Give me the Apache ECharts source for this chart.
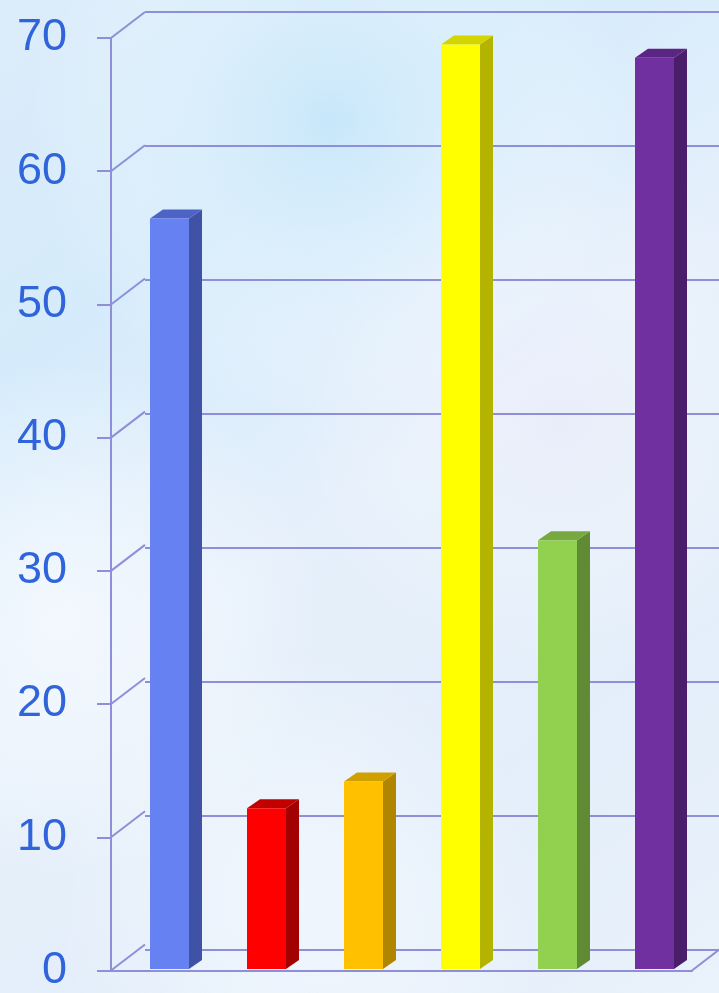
<!DOCTYPE html>
<html>
<head>
<meta charset="utf-8">
<script src="https://cdn.jsdelivr.net/npm/echarts@6/dist/echarts.min.js"></script>
<style>
html,body{margin:0;padding:0;background:#e6f1fb;}
#chart{width:719px;height:993px;}
</style>
</head>
<body>
<div id="chart"></div>
<script>
// ---- data ----
const categories = ['A', 'B', 'C', 'D', 'E', 'F'];
const values = [56, 12, 14, 69, 32, 68];
const yTicks = [0, 10, 20, 30, 40, 50, 60, 70];

// ---- styles ----
const frontColors = ['#6682f2', '#ff0000', '#ffc000', '#ffff00', '#92d050', '#7030a0'];
const sideColors  = ['#3f52a6', '#a30000', '#b08500', '#b3b300', '#608a34', '#4a1e6b'];
const topColors   = ['#4d64c6', '#c20000', '#d19f00', '#d4d400', '#78a842', '#5b2584'];
const gridColor = '#8f8fd9';
const depthX = 34, depthY = -26;  // projection of the floor depth
const barDX = 13, barDY = -9;     // projection of a bar's depth
const barW = 39;

const chart = echarts.init(document.getElementById('chart'));

function glow(cx, cy, r, color) {
  return {
    type: 'circle', silent: true, z: -10,
    shape: { cx: cx, cy: cy, r: r },
    style: { fill: { type: 'radial', x: 0.5, y: 0.5, r: 0.5,
      colorStops: [{ offset: 0, color: color }, { offset: 1, color: 'rgba(255,255,255,0)' }] } }
  };
}

const option = {
  animation: false,
  backgroundColor: {
    type: 'linear', x: 0, y: 0, x2: 1, y2: 1,
    colorStops: [
      { offset: 0, color: '#dcecfa' },
      { offset: 0.25, color: '#d5ebfb' },
      { offset: 0.5, color: '#e6f0fb' },
      { offset: 0.75, color: '#e3eefa' },
      { offset: 1, color: '#eaf2fb' }
    ]
  },
  graphic: [
    glow(330, 120, 300, 'rgba(196,230,250,0.8)'),
    glow(60, 620, 260, 'rgba(250,252,255,0.7)'),
    glow(560, 420, 260, 'rgba(236,236,250,0.6)'),
    glow(300, 900, 250, 'rgba(248,251,255,0.6)')
  ],
  grid: [
    { left: 111, top: 38, width: 581, height: 938 },  // front plane
    { left: 145, top: 12, width: 581, height: 938 },  // back wall
    { left: 121, top: 31, width: 582, height: 938 }   // bar plane
  ],
  xAxis: [
    { gridIndex: 0, type: 'category', data: categories,
      axisLine: { show: true, lineStyle: { color: gridColor, width: 2 } },
      axisTick: { show: false }, axisLabel: { show: false } },
    { gridIndex: 1, type: 'category', data: categories, show: false },
    { gridIndex: 2, type: 'category', data: categories, show: false }
  ],
  yAxis: [
    { gridIndex: 0, type: 'value', min: 0, max: 70, interval: 10,
      axisLine: { show: true, lineStyle: { color: gridColor, width: 2 } },
      axisTick: { show: true, length: 14, lineStyle: { color: gridColor, width: 2 } },
      axisLabel: { margin: 44, fontSize: 45, color: '#3064db', fontFamily: 'Liberation Sans' },
      splitLine: { show: false } },
    { gridIndex: 1, type: 'value', min: 0, max: 70, interval: 10,
      axisLine: { show: false }, axisTick: { show: false }, axisLabel: { show: false },
      splitLine: { show: true, lineStyle: { color: gridColor, width: 2 } } },
    { gridIndex: 2, type: 'value', min: 0, max: 70, interval: 10, show: false,
      splitLine: { show: false } }
  ],
  series: [
    { // diagonals from front axis to back wall
      type: 'custom', xAxisIndex: 0, yAxisIndex: 0, z: 1,
      data: yTicks.map(v => [categories[0], v]),
      renderItem: function (params, api) {
        const p = api.coord([api.value(0), api.value(1)]);
        const x = params.coordSys.x;
        return { type: 'line', shape: { x1: x, y1: p[1], x2: x + depthX, y2: p[1] + depthY },
                 style: { stroke: gridColor, lineWidth: 2 } };
      }
    },
    { // right floor edge
      type: 'custom', xAxisIndex: 0, yAxisIndex: 0, z: 1,
      data: [[categories[categories.length - 1], 0]],
      renderItem: function (params, api) {
        const p = api.coord([api.value(0), api.value(1)]);
        const x = params.coordSys.x + params.coordSys.width;
        return { type: 'line', shape: { x1: x, y1: p[1], x2: x + depthX, y2: p[1] + depthY },
                 style: { stroke: gridColor, lineWidth: 2 } };
      }
    },
    { // 3D bars
      type: 'custom', xAxisIndex: 2, yAxisIndex: 2, z: 5,
      data: values.map((v, i) => [categories[i], v]),
      renderItem: function (params, api) {
        const i = params.dataIndex;
        const top = api.coord([api.value(0), api.value(1)]);
        const base = api.coord([api.value(0), 0]);
        const x0 = top[0] - barW / 2, x1 = top[0] + barW / 2;
        const yt = top[1], yb = base[1];
        return { type: 'group', children: [
          { type: 'polygon', shape: { points: [[x1, yt], [x1 + barDX, yt + barDY], [x1 + barDX, yb + barDY], [x1, yb]] },
            style: { fill: sideColors[i] } },
          { type: 'polygon', shape: { points: [[x0, yt], [x0 + barDX, yt + barDY], [x1 + barDX, yt + barDY], [x1, yt]] },
            style: { fill: topColors[i] } },
          { type: 'rect', shape: { x: x0, y: yt, width: barW, height: yb - yt },
            style: { fill: frontColors[i] } }
        ] };
      }
    }
  ]
};
chart.setOption(option);
</script>
</body>
</html>
